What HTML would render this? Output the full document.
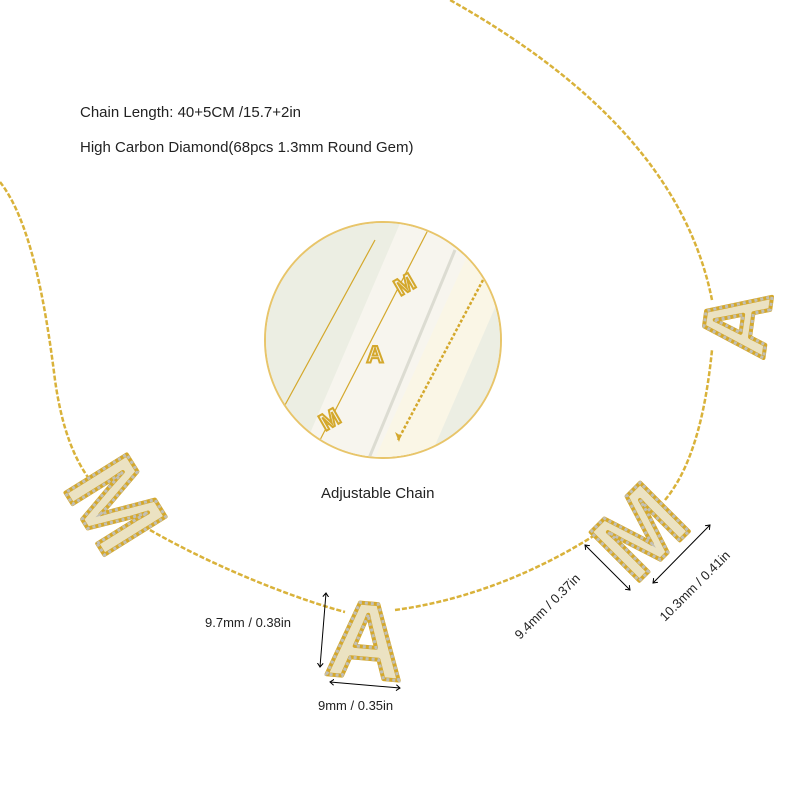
<!DOCTYPE html>
<html><head><meta charset="utf-8"><style>
html,body{margin:0;padding:0;background:#fff;}
svg{display:block;font-family:"Liberation Sans",sans-serif;}
</style></head><body>
<svg width="800" height="800" viewBox="0 0 800 800">
<defs>
<marker id="ar" markerWidth="8" markerHeight="8" refX="4" refY="4" orient="auto-start-reverse"><path d="M0,1 L4,4 L0,7" fill="none" stroke="#000" stroke-width="1"/></marker>
<clipPath id="cc"><circle cx="383" cy="340" r="117"/></clipPath>
</defs>
<rect width="800" height="800" fill="#fff"/>
<g fill="none" stroke="#d9b23a" stroke-width="2.5" stroke-dasharray="5 2">
<path d="M0,182 C30,220 45,300 55,380 C62,430 75,460 90,480"/>
<path d="M150,530 C220,570 300,600 345,612"/>
<path d="M395,610 C470,600 540,570 595,535"/>
<path d="M665,500 C690,470 705,420 712,350"/>
<path d="M712,300 C690,190 610,90 450,0"/>
</g>
<g font-weight="bold" text-anchor="middle" dominant-baseline="central">
<g fill="#ebe2c2" stroke="#d4a82c" stroke-width="4" stroke-linejoin="round">
<text x="115" y="505" font-size="105" transform="rotate(58 115 505)">M</text>
<text x="366" y="640" font-size="108" transform="rotate(5 366 640)">A</text>
<text x="640" y="532" font-size="100" transform="rotate(-45 640 532)">M</text>
<text x="737" y="323" font-size="92" transform="rotate(-82 737 323)">A</text>
</g>
<g fill="none" stroke="#c2bfb5" stroke-width="3" stroke-dasharray="3 3">
<text x="115" y="505" font-size="105" transform="rotate(58 115 505)">M</text>
<text x="366" y="640" font-size="108" transform="rotate(5 366 640)">A</text>
<text x="640" y="532" font-size="100" transform="rotate(-45 640 532)">M</text>
<text x="737" y="323" font-size="92" transform="rotate(-82 737 323)">A</text>
</g>
</g>
<circle cx="383" cy="340" r="118" fill="#f4f1e6" stroke="#e8c56a" stroke-width="2"/>
<g clip-path="url(#cc)">
<rect x="260" y="220" width="250" height="250" fill="#eceee3"/>
<polygon points="410,200 520,200 400,480 290,480" fill="#f7f5ee"/>
<polygon points="470,250 520,250 420,480 365,480" fill="#faf6e6"/>
<line x1="455" y1="250" x2="360" y2="480" stroke="#dcdcd2" stroke-width="3"/>
<path d="M375,240 L285,405" stroke="#d4a82c" stroke-width="1.2" fill="none"/>
<path d="M428,230 L320,440" stroke="#d4a82c" stroke-width="1.2" fill="none"/>
<path d="M483,280 L398,440" stroke="#d4a82c" stroke-width="2.5" stroke-dasharray="3 2" fill="none"/>
<g font-weight="bold" font-size="24" fill="#f4f2ea" stroke="#d4a82c" stroke-width="2" text-anchor="middle" dominant-baseline="central">
<text x="405" y="285" transform="rotate(-30 405 285)">M</text>
<text x="375" y="355">A</text>
<text x="330" y="420" transform="rotate(-30 330 420)">M</text>
</g>
<path d="M395,432 l6,4 l-2,6 z" fill="#d4a82c"/>
</g>
<g font-size="15" fill="#222">
<text x="80" y="117">Chain Length: 40+5CM /15.7+2in</text>
<text x="80" y="152">High Carbon Diamond(68pcs 1.3mm Round Gem)</text>
<text x="321" y="498">Adjustable Chain</text>
<text x="205" y="627" font-size="13">9.7mm / 0.38in</text>
<text x="318" y="710" font-size="13">9mm / 0.35in</text>
<text x="520" y="640" font-size="13" transform="rotate(-45 520 640)">9.4mm / 0.37in</text>
<text x="665" y="622" font-size="13" transform="rotate(-45 665 622)">10.3mm / 0.41in</text>
</g>
<g stroke="#000" stroke-width="1" fill="none">
<line x1="326" y1="593" x2="320" y2="667" marker-start="url(#ar)" marker-end="url(#ar)"/>
<line x1="330" y1="682" x2="400" y2="688" marker-start="url(#ar)" marker-end="url(#ar)"/>
<line x1="585" y1="545" x2="630" y2="590" marker-start="url(#ar)" marker-end="url(#ar)"/>
<line x1="653" y1="583" x2="710" y2="525" marker-start="url(#ar)" marker-end="url(#ar)"/>
</g>
</svg>
</body></html>
